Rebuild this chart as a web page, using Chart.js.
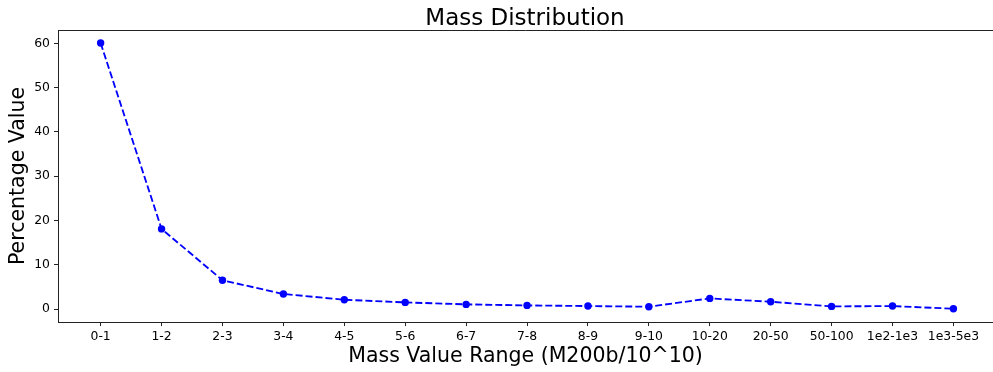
<!DOCTYPE html>
<html>
<head>
<meta charset="utf-8">
<title>Mass Distribution</title>
<script src="https://cdn.jsdelivr.net/npm/chart.js@4/dist/chart.umd.min.js"></script>
<style>
  html, body { margin: 0; padding: 0; background: #fff; }
  #wrap { width: 993px; height: 372px; }
</style>
</head>
<body>
<div id="wrap"><canvas id="mass-chart"></canvas></div>
<script>
let massRanges = ['0-1', '1-2', '2-3', '3-4', '4-5', '5-6', '6-7', '7-8', '8-9', '9-10',
                  '10-20', '20-50', '50-100', '1e2-1e3', '1e3-5e3'];
let percentValues = [60.1, 18.1, 6.5, 3.4, 2.1, 1.5, 1.05, 0.82, 0.67, 0.52,
                     2.4, 1.65, 0.6, 0.67, 0.07];
let yTickValues = [0, 10, 20, 30, 40, 50, 60];
let chartTitle = 'Mass Distribution';

Chart.defaults.font.family = "'DejaVu Sans', sans-serif";
Chart.defaults.color = '#000';

// top outline of the plot area + title centred over the axes
const frameAndTitle = {
    id: 'frameAndTitle',
    afterDraw(chart) {
        const {ctx, chartArea: a} = chart;
        ctx.save();
        ctx.strokeStyle = '#222';
        ctx.lineWidth = 1;
        ctx.beginPath();
        ctx.moveTo(a.left, Math.round(a.top) + 0.5);
        ctx.lineTo(a.right, Math.round(a.top) + 0.5);
        ctx.stroke();

        ctx.fillStyle = '#000';
        ctx.font = "23px 'DejaVu Sans', sans-serif";
        ctx.textAlign = 'center';
        ctx.textBaseline = 'alphabetic';
        ctx.fillText(chartTitle, (a.left + 992) / 2, 25);
        ctx.restore();
    }
};

let ctx = document.getElementById('mass-chart').getContext('2d');

let massChart = new Chart(ctx, {
    type: 'line',
    data: {
        datasets: [{
            label: 'Percentage',
            data: percentValues.map((v, i) => ({x: i, y: v})),
            borderColor: '#0000ff',
            backgroundColor: '#0000ff',
            borderWidth: 1.85,
            borderDash: [7, 3],
            pointRadius: 3.7,
            pointBorderWidth: 0,
            tension: 0,
            fill: false
        }]
    },
    options: {
        responsive: true,
        maintainAspectRatio: false,
        animation: false,
        layout: {
            autoPadding: false,
            padding: {top: 30, left: 0, right: 0, bottom: 0}
        },
        plugins: {
            legend: {display: false},
            tooltip: {enabled: false},
            title: {display: false}
        },
        scales: {
            x: {
                type: 'linear',
                min: -0.7,
                max: 14.65,
                afterFit(scale) {
                    scale.height = 50;
                    scale.paddingLeft = 0;
                    scale.paddingRight = 0;
                },
                afterBuildTicks(scale) {
                    scale.ticks = massRanges.map((c, i) => ({value: i}));
                },
                ticks: {
                    autoSkip: false,
                    maxRotation: 0,
                    includeBounds: false,
                    padding: 3,
                    font: {size: 12.4},
                    callback: (v) => massRanges[v]
                },
                grid: {drawOnChartArea: false, tickLength: 4, color: '#222'},
                border: {color: '#222', width: 1},
                title: {
                    display: true,
                    text: 'Mass Value Range (M200b/10^10)',
                    font: {size: 20.5},
                    padding: {top: 0, bottom: 3}
                }
            },
            y: {
                min: -2.93,
                max: 63.04,
                afterFit(scale) {
                    scale.width = 58;
                    scale.paddingTop = 0;
                    scale.paddingBottom = 0;
                },
                afterBuildTicks(scale) {
                    scale.ticks = yTickValues.map(v => ({value: v}));
                },
                ticks: {
                    includeBounds: false,
                    padding: 4,
                    font: {size: 12.4}
                },
                grid: {drawOnChartArea: false, tickLength: 4, color: '#222'},
                border: {color: '#222', width: 1},
                title: {
                    display: true,
                    text: 'Percentage Value',
                    font: {size: 20.5},
                    padding: {top: 6, bottom: 0}
                }
            }
        }
    },
    plugins: [frameAndTitle]
});
</script>
</body>
</html>
